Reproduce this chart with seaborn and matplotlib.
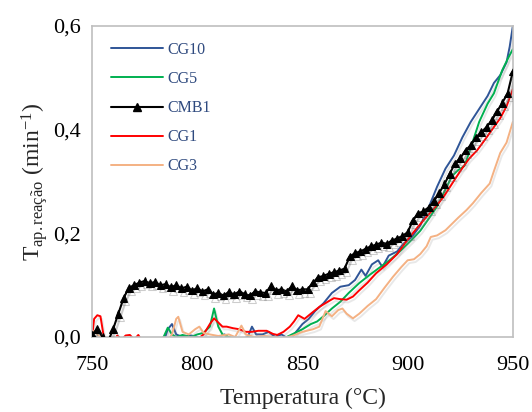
import numpy as np
import pandas as pd
import matplotlib
matplotlib.use("Agg")
import matplotlib.pyplot as plt
import matplotlib.patheffects as pe
from matplotlib.lines import Line2D
from matplotlib.ticker import FuncFormatter
import seaborn as sns

# --- series data: temperature (°C) and apparent reaction rate (min^-1) ---
cmb1_t = np.arange(750, 950.1, 2.5)
cmb1_v = [0.005, 0.015, 0.0, -0.01, 0.015, 0.045, 0.075, 0.095, 0.100, 0.105,
          0.108, 0.104, 0.106, 0.100, 0.102, 0.096, 0.100, 0.094, 0.097, 0.090,
          0.094, 0.088, 0.092, 0.082, 0.085, 0.080, 0.087, 0.082, 0.088, 0.083,
          0.080, 0.088, 0.086, 0.085, 0.098, 0.090, 0.092, 0.088, 0.098, 0.090,
          0.092, 0.092, 0.105, 0.115, 0.118, 0.122, 0.125, 0.128, 0.132, 0.155,
          0.162, 0.165, 0.170, 0.175, 0.178, 0.182, 0.180, 0.186, 0.190, 0.195,
          0.202, 0.225, 0.238, 0.243, 0.250, 0.262, 0.278, 0.295, 0.315, 0.335,
          0.345, 0.360, 0.370, 0.385, 0.395, 0.405, 0.418, 0.435, 0.452, 0.470,
          0.512]

cg10_t = [750, 780, 784, 786, 788, 790, 793, 797, 800, 805, 810, 813, 816, 820,
          824, 826, 828, 831, 834, 837, 840, 844, 847, 850, 853, 856, 860, 864,
          868, 872, 875, 878, 880, 883, 886, 888, 891, 895, 898, 902, 906, 910,
          914, 918, 922, 926, 930, 934, 938, 941, 944, 947, 948.5, 950]
cg10_v = [-0.02, -0.02, -0.01, 0.015, 0.025, 0.005, 0.0, 0.003, 0.0, -0.005,
          0.0, 0.005, -0.005, -0.005, 0.0, 0.02, 0.005, 0.005, 0.01, 0.0, 0.005,
          -0.005, 0.01, 0.025, 0.035, 0.05, 0.065, 0.085, 0.097, 0.100, 0.110,
          0.130, 0.118, 0.140, 0.148, 0.135, 0.157, 0.165, 0.180, 0.193, 0.215,
          0.250, 0.290, 0.325, 0.350, 0.385, 0.415, 0.440, 0.465, 0.490, 0.505,
          0.530, 0.560, 0.600]

cg5_t = [750, 780, 784, 786, 788, 790, 793, 797, 800, 803, 806, 808, 810, 812,
         815, 820, 825, 830, 835, 840, 845, 850, 854, 857, 860, 864, 868, 872,
         877, 882, 887, 892, 897, 902, 906, 910, 914, 918, 921, 924, 927, 930,
         934, 938, 941, 945, 948, 950]
cg5_v = [-0.01, -0.01, 0.0, 0.018, 0.005, 0.0, 0.004, 0.0, 0.005, 0.008, 0.02,
         0.055, 0.02, 0.005, 0.0, -0.005, 0.0, -0.003, 0.0, -0.005, 0.005, 0.015,
         0.025, 0.03, 0.04, 0.055, 0.068, 0.085, 0.104, 0.120, 0.135, 0.150,
         0.168, 0.188, 0.205, 0.228, 0.252, 0.285, 0.310, 0.322, 0.330, 0.365,
         0.415, 0.450, 0.470, 0.515, 0.540, 0.555]

cg1_t = [750, 751, 752.5, 754, 755, 756, 760, 762, 764, 766, 768, 770, 772, 774,
         800, 803, 806, 808, 810, 812, 814, 817, 820, 823, 826, 829, 833, 836,
         838, 841, 844, 846, 848, 851, 854, 858, 862, 865, 868, 871, 874, 877,
         881, 885, 890, 895, 900, 905, 909, 913, 917, 921, 925, 929, 933, 937,
         941, 944, 947, 950]
cg1_v = [0.0, 0.035, 0.042, 0.04, 0.015, -0.01, -0.01, 0.003, -0.005, 0.003,
         0.004, -0.005, 0.004, -0.01, -0.005, 0.005, 0.025, 0.036, 0.028, 0.02,
         0.02, 0.017, 0.015, 0.01, 0.01, 0.012, 0.012, 0.006, 0.004, 0.01, 0.02,
         0.03, 0.042, 0.035, 0.045, 0.058, 0.068, 0.075, 0.073, 0.072, 0.078,
         0.090, 0.105, 0.123, 0.140, 0.160, 0.188, 0.213, 0.232, 0.250, 0.270,
         0.295, 0.320, 0.343, 0.360, 0.382, 0.405, 0.422, 0.445, 0.478]

cg3_t = [750, 751, 753, 755, 760, 785, 788, 790, 791, 793, 796, 799, 801, 803,
         806, 810, 815, 818, 821, 823, 827, 832, 836, 840, 845, 850, 855, 858,
         861, 864, 867, 869, 871, 874, 877, 881, 885, 889, 893, 897, 900, 903,
         906, 909, 911, 914, 918, 921, 924, 928, 931, 935, 939, 941, 944, 947,
         950]
cg3_v = [0.005, 0.012, 0.003, -0.005, -0.01, -0.01, 0.005, 0.035, 0.039, 0.01,
         0.005, 0.015, 0.02, 0.008, 0.005, 0.002, 0.005, 0.0, 0.022, 0.005, 0.0,
         0.002, 0.0, -0.003, 0.002, 0.01, 0.015, 0.02, 0.05, 0.04, 0.052, 0.055,
         0.045, 0.036, 0.045, 0.06, 0.073, 0.095, 0.116, 0.135, 0.148, 0.150,
         0.160, 0.175, 0.193, 0.196, 0.206, 0.218, 0.230, 0.245, 0.258, 0.278,
         0.296, 0.320, 0.355, 0.375, 0.415]

labels = ["CG10", "CG5", "CMB1", "CG1", "CG3"]
colors = ["#2F5597", "#00B050", "#000000", "#FF0000", "#F4B183"]

x_ticks = [750, 800, 850, 900, 950]
y_ticks = [0.0, 0.2, 0.4, 0.6]

series = {
    "CG10": (cg10_t, cg10_v),
    "CG5": (cg5_t, cg5_v),
    "CMB1": (cmb1_t, cmb1_v),
    "CG1": (cg1_t, cg1_v),
    "CG3": (cg3_t, cg3_v),
}

sns.set_theme(style="white")
plt.rcParams["font.family"] = ["Liberation Serif", "DejaVu Serif"]
plt.rcParams["mathtext.fontset"] = "custom"
plt.rcParams["mathtext.rm"] = "Liberation Serif"
plt.rcParams["mathtext.it"] = "Liberation Serif:italic"

fig = plt.figure(figsize=(5.32, 4.12), dpi=100)
ax = fig.add_axes([0.173, 0.182, 0.791, 0.755])

handles = []
for name, color in zip(labels, colors):
    t, v = series[name]
    df = pd.DataFrame({"T": t, "rate": v})
    if name == "CMB1":
        shadow = [pe.SimpleLineShadow(offset=(1.5, -2.5), shadow_color="#707070", alpha=0.35),
                  pe.Normal()]
        sns.lineplot(data=df, x="T", y="rate", ax=ax, color=color, lw=1.5,
                     marker="^", markersize=5.5, markeredgecolor=color,
                     path_effects=shadow, zorder=3, legend=False)
        handles.append(Line2D([], [], color=color, lw=1.5, marker="^",
                              markersize=5.5, markeredgecolor=color, label=name))
    else:
        shadow = [pe.SimpleLineShadow(offset=(1.2, -2), shadow_color="#909090", alpha=0.2),
                  pe.Normal()]
        sns.lineplot(data=df, x="T", y="rate", ax=ax, color=color, lw=1.4,
                     path_effects=shadow, zorder=2, legend=False)
        handles.append(Line2D([], [], color=color, lw=1.4, label=name))

ax.set_xlim(750, 950)
ax.set_ylim(0, 0.6)
ax.set_xticks(x_ticks)
ax.set_yticks(y_ticks)
ax.yaxis.set_major_formatter(FuncFormatter(lambda v, p: f"{v:.1f}".replace(".", ",")))
ax.tick_params(axis="both", which="major", direction="out", length=5, width=1,
               color="#BFBFBF", labelsize=16, labelcolor="black")
ax.tick_params(axis="x", pad=9)
ax.tick_params(axis="y", pad=3)
for s in ax.spines.values():
    s.set_color("#BFBFBF")
    s.set_linewidth(1.2)

ax.set_xlabel("Temperatura (°C)", fontsize=17, labelpad=9)
ax.set_ylabel(r"T$_{\mathrm{ap{.}reação}}$ (min$^{-1}$)", fontsize=17, labelpad=2)

leg = ax.legend(handles=handles, loc="upper left", frameon=False, fontsize=11.5,
                handlelength=3.25, labelspacing=0.82, borderaxespad=0.0,
                borderpad=0.4, handletextpad=0.31, bbox_to_anchor=(0.029, 0.969),
                numpoints=1)
for txt in leg.get_texts():
    txt.set_color("#2F4A7F")

fig.savefig("out.png", dpi=100)
